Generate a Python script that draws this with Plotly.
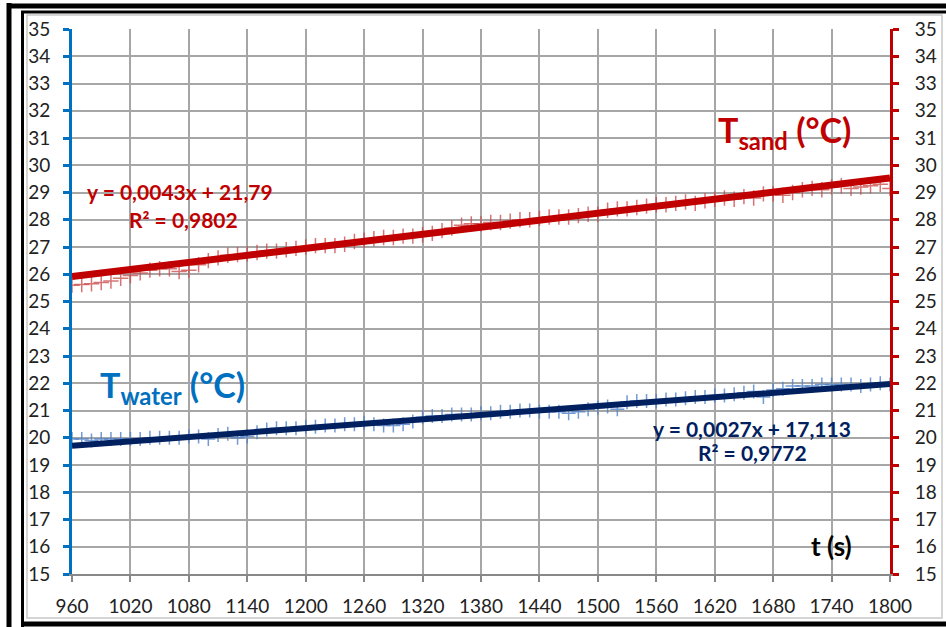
import plotly.graph_objects as go

# Sampling times (s)
t = [960, 970, 980, 990, 1000, 1010, 1020, 1030, 1040, 1050,
     1060, 1070, 1080, 1090, 1100, 1110, 1120, 1130, 1140, 1150,
     1160, 1170, 1180, 1190, 1200, 1210, 1220, 1230, 1240, 1250,
     1260, 1270, 1280, 1290, 1300, 1310, 1320, 1330, 1340, 1350,
     1360, 1370, 1380, 1390, 1400, 1410, 1420, 1430, 1440, 1450,
     1460, 1470, 1480, 1490, 1500, 1510, 1520, 1530, 1540, 1550,
     1560, 1570, 1580, 1590, 1600, 1610, 1620, 1630, 1640, 1650,
     1660, 1670, 1680, 1690, 1700, 1710, 1720, 1730, 1740, 1750,
     1760, 1770, 1780, 1790, 1800]

# Sand temperature (°C)
t_sand = [25.60, 25.62, 25.65, 25.70, 25.75, 25.85, 25.95, 26.05, 26.15, 26.20,
          26.20, 26.10, 26.15, 26.35, 26.50, 26.60, 26.70, 26.72, 26.75, 26.80,
          26.85, 26.85, 26.90, 26.95, 27.00, 27.05, 27.05, 27.05, 27.10, 27.20,
          27.25, 27.30, 27.35, 27.35, 27.40, 27.40, 27.45, 27.50, 27.60, 27.70,
          27.80, 27.85, 27.85, 27.90, 27.90, 27.95, 28.00, 28.00, 28.05, 28.10,
          28.10, 28.10, 28.15, 28.20, 28.20, 28.35, 28.40, 28.40, 28.45, 28.50,
          28.55, 28.55, 28.60, 28.65, 28.60, 28.70, 28.75, 28.80, 28.75, 28.85,
          28.80, 28.95, 28.95, 28.90, 29.00, 29.10, 29.15, 29.10, 29.20, 29.25,
          29.15, 29.20, 29.25, 29.30, 29.15]

# Water temperature (°C)
t_water = [19.95, 19.95, 19.90, 19.95, 19.95, 19.95, 19.95, 19.95, 20.00, 20.00,
           20.00, 20.00, 20.05, 20.05, 19.95, 20.10, 20.15, 20.00, 20.05, 20.20,
           20.30, 20.35, 20.35, 20.35, 20.40, 20.40, 20.45, 20.45, 20.50, 20.50,
           20.55, 20.50, 20.45, 20.45, 20.50, 20.60, 20.75, 20.80, 20.80, 20.85,
           20.85, 20.85, 20.90, 20.90, 20.95, 20.95, 21.00, 21.00, 20.95, 20.95,
           20.95, 20.90, 20.95, 21.05, 21.10, 21.15, 21.05, 21.30, 21.35, 21.35,
           21.35, 21.40, 21.40, 21.45, 21.50, 21.50, 21.55, 21.55, 21.60, 21.65,
           21.70, 21.50, 21.75, 21.80, 21.90, 21.90, 21.90, 21.95, 21.95, 21.95,
           21.95, 21.90, 21.95, 22.00, 21.95]

# Linear trend coefficients (slope, intercept) and R²
sand_fit = (0.0043, 21.79, 0.9802)
water_fit = (0.0027, 17.113, 0.9772)

x_ticks = [960, 1020, 1080, 1140, 1200, 1260, 1320, 1380, 1440, 1500,
           1560, 1620, 1680, 1740, 1800]
y_ticks = list(range(15, 36))

RED = "#c00000"
BLUE = "#0070c0"
NAVY = "#002060"
SAND_PT = "rgba(200,70,70,0.75)"
WATER_PT = "rgba(79,129,200,0.8)"
FONT = "Lato, 'Open Sans', sans-serif"

t0, t1 = t[0], t[-1]


def trend(fit):
    a, b, _ = fit
    return [t0, t1], [a * t0 + b, a * t1 + b]


fig = go.Figure()

fig.add_trace(go.Scatter(
    x=t, y=t_sand, mode="markers", yaxis="y2",
    marker=dict(symbol="cross-thin-open", size=11, color=SAND_PT,
                line=dict(color=SAND_PT, width=1.5)),
    showlegend=False, hoverinfo="skip"))
fig.add_trace(go.Scatter(
    x=t, y=t_water, mode="markers",
    marker=dict(symbol="cross-thin-open", size=10, color=WATER_PT,
                line=dict(color=WATER_PT, width=1.5)),
    showlegend=False, hoverinfo="skip"))

sx, sy = trend(sand_fit)
fig.add_trace(go.Scatter(x=sx, y=sy, mode="lines", yaxis="y2",
                         line=dict(color=RED, width=7), showlegend=False))
wx, wy = trend(water_fit)
fig.add_trace(go.Scatter(x=wx, y=wy, mode="lines",
                         line=dict(color=NAVY, width=6), showlegend=False))

W, H = 946, 627
L, R, T, B = 72, 890, 29, 574


def px(x):
    return (x - L) / (R - L)


def py(y):
    return (B - y) / (B - T)


def fmt(v, nd):
    return f"{v:.{nd}f}".replace(".", ",")


shapes = [
    # light rounded chart border
    dict(type="rect", xref="paper", yref="paper",
         x0=px(27), x1=px(942), y0=py(618), y1=py(15),
         line=dict(color="#c8c8c8", width=1.5), layer="below"),
    # heavy black frame lines
    dict(type="line", xref="paper", yref="paper",
         x0=px(9), x1=px(9), y0=py(3), y1=py(627),
         line=dict(color="black", width=5)),
    dict(type="line", xref="paper", yref="paper",
         x0=px(7), x1=px(946), y0=py(6), y1=py(6),
         line=dict(color="black", width=5)),
    dict(type="line", xref="paper", yref="paper",
         x0=px(22.5), x1=px(22.5), y0=py(11), y1=py(627),
         line=dict(color="black", width=3)),
    dict(type="line", xref="paper", yref="paper",
         x0=px(21), x1=px(946), y0=py(12), y1=py(12),
         line=dict(color="black", width=3)),
    dict(type="line", xref="paper", yref="paper",
         x0=px(21), x1=px(946), y0=py(624), y1=py(624),
         line=dict(color="black", width=5)),
]

annotations = [
    dict(text="<b>T<sub>sand</sub> (°C)</b>", x=px(784), y=py(132),
         font=dict(size=34, color=RED, family=FONT)),
    dict(text="<b>T<sub>water</sub> (°C)</b>", x=px(172), y=py(387),
         font=dict(size=34, color=BLUE, family=FONT)),
    dict(text=f"<b>y = {fmt(sand_fit[0], 4)}x + {fmt(sand_fit[1], 2)}</b>",
         x=px(180), y=py(192), font=dict(size=21, color=RED, family=FONT)),
    dict(text=f"<b>R² = {fmt(sand_fit[2], 4)}</b>",
         x=px(183), y=py(220), font=dict(size=21, color=RED, family=FONT)),
    dict(text=f"<b>y = {fmt(water_fit[0], 4)}x + {fmt(water_fit[1], 3)}</b>",
         x=px(752), y=py(428), font=dict(size=21, color=NAVY, family=FONT)),
    dict(text=f"<b>R² = {fmt(water_fit[2], 4)}</b>",
         x=px(752), y=py(452), font=dict(size=21, color=NAVY, family=FONT)),
    dict(text="<b>t (s)</b>", x=px(831), y=py(546),
         font=dict(size=26, color="black", family=FONT)),
]
for a in annotations:
    a.update(xref="paper", yref="paper", showarrow=False,
             xanchor="center", yanchor="middle")

fig.update_layout(
    width=W, height=H,
    margin=dict(l=L, r=W - R, t=T, b=H - B, autoexpand=False),
    paper_bgcolor="white", plot_bgcolor="white",
    font=dict(family=FONT, size=19, color="#222222"),
    showlegend=False,
    xaxis=dict(range=[t0, t1], tickvals=x_ticks, ticks="outside",
               ticklen=6, tickwidth=2, tickcolor="#888888",
               showline=True, linecolor="#888888", linewidth=2,
               showgrid=True, gridcolor="#a6a6a6", gridwidth=1.5,
               zeroline=False, ticklabelstandoff=8, automargin=False),
    yaxis=dict(range=[15, 35], tickvals=y_ticks, ticks="outside",
               ticklen=6, tickwidth=3, tickcolor=BLUE,
               showline=True, linecolor=BLUE, linewidth=3,
               showgrid=True, gridcolor="#a6a6a6", gridwidth=1.5,
               zeroline=False, ticklabelstandoff=9, automargin=False),
    yaxis2=dict(range=[15, 35], tickvals=y_ticks, ticks="outside",
                ticklen=6, tickwidth=3, tickcolor=RED,
                showline=True, linecolor=RED, linewidth=3,
                overlaying="y", side="right", showgrid=False,
                zeroline=False, ticklabelstandoff=12, automargin=False),
    shapes=shapes,
    annotations=annotations,
)

fig.write_html("out.html")
